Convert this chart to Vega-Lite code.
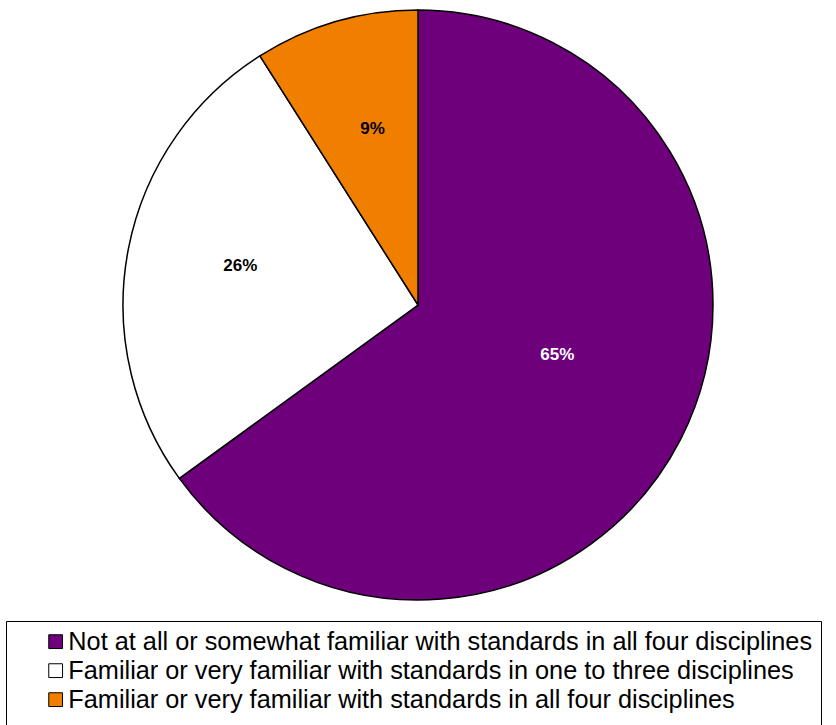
{
  "$schema": "https://vega.github.io/schema/vega-lite/v6.json",
  "width": 836,
  "height": 610,
  "autosize": "none",
  "padding": {"left": 0, "top": 0, "right": 0, "bottom": 115},
  "background": "white",
  "config": {"view": {"stroke": null}},
  "data": {
    "values": [
      {"cat": "Not at all or somewhat familiar with standards in all four disciplines", "value": 65, "label": "65%", "rank": 1},
      {"cat": "Familiar or very familiar with standards in one to three disciplines", "value": 26, "label": "26%", "rank": 2},
      {"cat": "Familiar or very familiar with standards in all four disciplines", "value": 9, "label": "9%", "rank": 3}
    ]
  },
  "encoding": {
    "theta": {"field": "value", "type": "quantitative", "stack": true},
    "order": {"field": "rank", "type": "quantitative"}
  },
  "layer": [
    {
      "mark": {"type": "arc", "radius": 295, "stroke": "black", "strokeWidth": 1.5},
      "encoding": {
        "color": {
          "field": "cat",
          "type": "nominal",
          "sort": null,
          "scale": {
            "domain": [
              "Not at all or somewhat familiar with standards in all four disciplines",
              "Familiar or very familiar with standards in one to three disciplines",
              "Familiar or very familiar with standards in all four disciplines"
            ],
            "range": ["#6E007C", "#FFFFFF", "#F07F00"]
          },
          "legend": {
            "title": " ",
            "titleOrient": "bottom",
            "titleFontSize": 20,
            "titlePadding": 4,
            "orient": "none",
            "legendX": 6,
            "legendY": 621,
            "direction": "vertical",
            "strokeColor": "black",
            "padding": 8,
            "symbolOffset": 29,
            "symbolType": "square",
            "symbolSize": 190,
            "symbolStrokeColor": "black",
            "symbolStrokeWidth": 1,
            "symbolOpacity": 1,
            "labelFont": "Liberation Sans",
            "labelFontSize": 25.3,
            "labelColor": "black",
            "labelLimit": 1000,
            "labelOffset": 0,
            "labelExpr": "datum.label + '          '",
            "rowPadding": 3
          }
        }
      }
    },
    {
      "mark": {"type": "text", "radius": 148, "thetaOffset": -0.126, "font": "Liberation Sans", "fontSize": 17, "fontWeight": "bold", "color": "white"},
      "encoding": {
        "text": {"field": "label"},
        "opacity": {"condition": {"test": "datum.rank === 1", "value": 1}, "value": 0}
      }
    },
    {
      "mark": {"type": "text", "radius": 182, "thetaOffset": 0.03, "font": "Liberation Sans", "fontSize": 17, "fontWeight": "bold", "color": "black"},
      "encoding": {
        "text": {"field": "label"},
        "opacity": {"condition": {"test": "datum.rank !== 1", "value": 1}, "value": 0}
      }
    }
  ]
}
